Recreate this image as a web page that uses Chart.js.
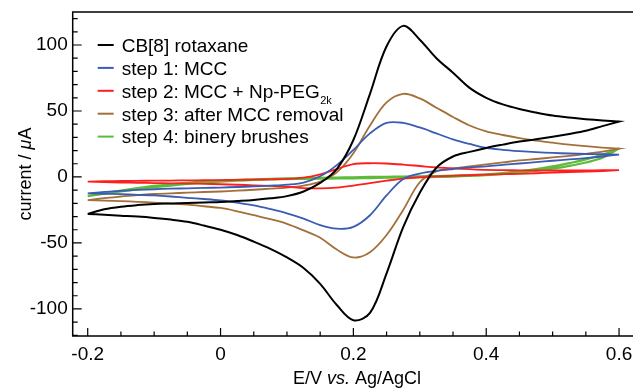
<!DOCTYPE html>
<html><head><meta charset="utf-8">
<script src="https://cdn.jsdelivr.net/npm/chart.js@4/dist/chart.umd.min.js"></script>
<style>html,body{margin:0;padding:0;background:#fff}#wrap{width:633px;height:389px}</style>
</head><body><div id="wrap"><canvas id="c"></canvas></div>
<script>
// Potential grid (V vs Ag/AgCl), forward sweep; the reverse sweep is the same grid reversed
const potentialForward = [-0.2,-0.175,-0.15,-0.125,-0.1,-0.075,-0.05,-0.025,0,0.025,0.05,0.075,0.1,0.125,0.15,0.175,0.2,0.225,0.25,0.275,0.3,0.325,0.35,0.375,0.4,0.425,0.45,0.475,0.5,0.525,0.55,0.575,0.6];
const potentialReverse = potentialForward.slice().reverse();

// Currents (µA) along the forward sweep (-0.2 -> 0.6)
const cb8Forward   = [-28,-24.5,-22.5,-21.3,-20.5,-20.1,-19.8,-19.3,-18.9,-18.2,-17.4,-16.2,-14.5,-11,-4.5,6,28,63,99,114.5,104,90,79,67.5,60,55,51.5,48.8,46.5,45,43.8,42.8,42];
const step1Forward = [-12.5,-11.3,-10.5,-9.8,-9.3,-8.9,-8.6,-8.3,-8,-7.6,-7.2,-6.6,-5.8,-4.2,0.5,9,20.5,33,41,41,37.5,33,28.5,25,22,20.6,19.6,18.8,18.2,17.8,17.4,17.2,17];
const step2Forward = [-3.5,-3.2,-3,-2.9,-2.8,-2.7,-2.6,-2.5,-2.4,-2.2,-2,-1.8,-1.5,-0.5,2,6,9.8,10.4,10.2,9.4,8.3,7.2,6.5,5.9,5.4,5.2,5,4.9,4.9,4.9,5,5.1,5.2];
const step3Forward = [-17.5,-16,-14.8,-13.7,-12.9,-12.4,-11.9,-11.4,-11,-10.4,-9.7,-8.9,-8,-6.5,-3.5,3.5,18,39,56.5,63,59.5,52.5,45.5,39,34.5,31.8,29.5,27.6,26,24.5,23.3,22.3,21.5];
const step4Forward = [-14.5,-12.3,-10.3,-8.5,-6.8,-5.5,-4.4,-3.5,-2.8,-2.2,-1.8,-1.4,-1.1,-0.9,-0.6,-0.4,-0.2,0,0.1,0.3,0.5,0.7,1,1.4,2,3,4.3,6,8,10.5,13.3,17,21.5];

// Currents (µA) along the reverse sweep (0.6 -> -0.2)
const cb8Reverse   = [42,38.5,35,32.6,30.5,28.6,26.8,24.5,22,19,15.5,7,-12,-38,-73,-103,-108.5,-97,-81,-69,-61,-54.5,-49,-44,-40,-36.8,-34,-32.3,-31,-30,-29.3,-28.6,-28];
const step1Reverse = [17,15.5,14.3,13.3,12.3,11.2,10.2,9.1,8,7.2,6,4.6,2.6,-1.5,-14,-29,-37.8,-39.2,-36.5,-31.5,-27.5,-24.3,-21.5,-19.5,-17.8,-16.7,-15.8,-14.8,-14,-13.5,-13,-12.7,-12.5];
const step2Reverse = [5.2,4.5,4,3.6,3.3,2.8,2.4,2.1,1.8,1.3,0.9,0.4,-0.2,-1.2,-2.8,-4.6,-6.5,-8,-8.6,-8.4,-7.4,-6.8,-6.3,-5.9,-5.5,-5.2,-5,-4.8,-4.6,-4.4,-4.2,-3.9,-3.5];
const step3Reverse = [21.5,19.2,17.5,16,14.8,13.6,12.5,11,9.5,8,6.5,4.3,-4,-25,-44,-57,-61,-55,-46,-40.5,-35.5,-32,-29,-26,-23.5,-22.2,-21,-20.2,-19.4,-18.8,-18.3,-17.9,-17.5];
const step4Reverse = [21.5,14.5,11,8.4,6.3,4.6,3.2,2.2,1.4,0.8,0.3,0,-0.2,-0.4,-0.6,-0.8,-1,-1.1,-1.3,-1.4,-1.6,-1.9,-2.3,-2.8,-3.5,-4.3,-5.3,-6.5,-7.8,-9.3,-11,-12.7,-14.5];

const seriesLabels = ['CB[8] rotaxane','step 1: MCC','step 2: MCC + Np-PEG','step 3: after MCC removal','step 4: binery brushes'];
const seriesSubscripts = ['','','2k','',''];
const seriesColors = ['#000000','#3a5cb4','#ff1e1e','#a36f3a','#5cbc3a'];

const xTickValues = [-0.2,0,0.2,0.4,0.6];
const xTickLabels = ['-0.2','0','0.2','0.4','0.6'];
const yTickValues = [-100,-50,0,50,100];
const yTickLabels = ['-100','-50','0','50','100'];

const FONT = '"Liberation Sans", Arial, Helvetica, sans-serif';

function loop(fwd, rev) {
  const pts = potentialForward.map((e, i) => ({x: e, y: fwd[i]}));
  return pts.concat(potentialReverse.map((e, i) => ({x: e, y: rev[i]})));
}
const forwards = [cb8Forward, step1Forward, step2Forward, step3Forward, step4Forward];
const reverses = [cb8Reverse, step1Reverse, step2Reverse, step3Reverse, step4Reverse];

const datasets = seriesLabels.map((lab, i) => ({
  label: lab,
  data: loop(forwards[i], reverses[i]),
  borderColor: seriesColors[i],
  backgroundColor: seriesColors[i],
  borderWidth: i === 0 ? 2 : (i === 4 ? 2.2 : 1.8),
  showLine: true,
  pointRadius: 0,
  tension: 0.35,
  fill: false
}));

const decor = {
  id: 'decor',
  afterDraw(chart) {
    const ctx = chart.ctx, a = chart.chartArea, xs = chart.scales.x, ys = chart.scales.y;
    ctx.save();
    ctx.strokeStyle = '#000';
    ctx.lineWidth = 1.5;
    ctx.beginPath();
    ctx.moveTo(a.right, a.top); ctx.lineTo(a.left, a.top); ctx.lineTo(a.left, a.bottom); ctx.lineTo(a.right, a.bottom);
    ctx.stroke();
    ctx.lineWidth = 1.2;
    ctx.beginPath();
    for (let i = -4; i <= 12; i++) {
      const px = xs.getPixelForValue(i * 0.05);
      const len = i % 4 === 0 ? 8 : 4.5;
      ctx.moveTo(px, a.bottom); ctx.lineTo(px, a.bottom - len);
    }
    for (let i = -12; i <= 12; i++) {
      const py = ys.getPixelForValue(i * 10);
      const len = i % 5 === 0 ? 9 : 5;
      ctx.moveTo(a.left, py); ctx.lineTo(a.left + len, py);
    }
    ctx.stroke();

    // legend
    ctx.fillStyle = '#000';
    ctx.textAlign = 'left';
    ctx.textBaseline = 'alphabetic';
    chart.data.datasets.forEach((ds, i) => {
      const cy = a.top + 33 + i * 22.9;
      ctx.strokeStyle = ds.borderColor;
      ctx.lineWidth = 2;
      ctx.beginPath();
      ctx.moveTo(a.left + 25, cy); ctx.lineTo(a.left + 41, cy);
      ctx.stroke();
      ctx.font = '19px ' + FONT;
      ctx.fillText(ds.label, a.left + 49, cy + 6.8);
      if (seriesSubscripts[i]) {
        const w = ctx.measureText(ds.label).width;
        ctx.font = '11px ' + FONT;
        ctx.fillText(seriesSubscripts[i], a.left + 49 + w + 0.5, cy + 12.8);
      }
    });

    // axis titles
    function mixed(parts, cx, cy) {
      let total = 0;
      parts.forEach(p => { ctx.font = (p[1] ? 'italic ' : '') + '18px ' + FONT; p.w = ctx.measureText(p[0]).width; total += p.w; });
      let x = cx - total / 2;
      ctx.textAlign = 'left';
      ctx.textBaseline = 'middle';
      parts.forEach(p => { ctx.font = (p[1] ? 'italic ' : '') + '18px ' + FONT; ctx.fillText(p[0], x, cy); x += p.w; });
    }
    ctx.fillStyle = '#000';
    mixed([['E/V ', false], ['vs.', true], [' Ag/AgCl', false]], 357, 379);
    ctx.save();
    ctx.translate(26, (a.top + a.bottom) / 2);
    ctx.rotate(-Math.PI / 2);
    mixed([['current / ', false], ['\u03BC', true], ['A', false]], 0, 0);
    ctx.restore();
    ctx.restore();
  }
};

new Chart(document.getElementById('c'), {
  type: 'scatter',
  data: { datasets },
  options: {
    responsive: true,
    maintainAspectRatio: false,
    animation: false,
    layout: { padding: { top: 12, right: 0, left: 0, bottom: 0 } },
    plugins: { legend: { display: false }, tooltip: { enabled: false } },
    scales: {
      x: {
        type: 'linear', min: -0.2226, max: 0.621,
        grid: { display: false, drawTicks: false },
        border: { display: false },
        afterBuildTicks: s => { s.ticks = xTickValues.map(v => ({ value: v })); },
        afterFit: s => { s.height = 53; s.paddingLeft = 0; s.paddingRight = 0; },
        ticks: {
          color: '#000', font: { size: 19, family: FONT }, padding: 7,
          maxRotation: 0, autoSkip: false,
          callback: v => xTickLabels[xTickValues.indexOf(v)]
        }
      },
      y: {
        type: 'linear', min: -120.5, max: 125,
        grid: { display: false, drawTicks: false },
        border: { display: false },
        afterBuildTicks: s => { s.ticks = yTickValues.map(v => ({ value: v })); },
        afterFit: s => { s.width = 72.7; s.paddingTop = 0; s.paddingBottom = 0; },
        ticks: {
          color: '#000', font: { size: 19, family: FONT }, padding: 5,
          autoSkip: false,
          callback: v => yTickLabels[yTickValues.indexOf(v)]
        }
      }
    }
  },
  plugins: [decor]
});
</script>
</body></html>
